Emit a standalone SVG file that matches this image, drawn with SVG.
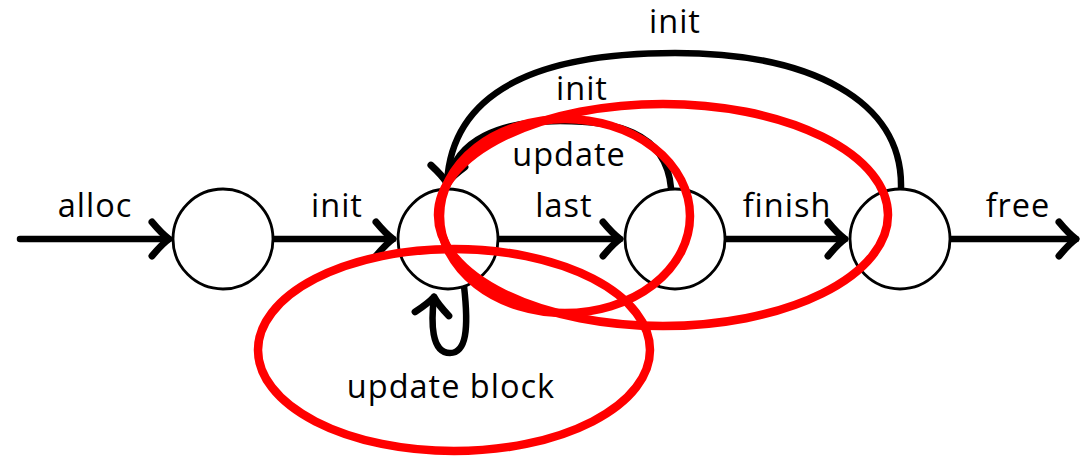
<svg xmlns="http://www.w3.org/2000/svg" width="1083" height="457" viewBox="0 0 1083 457">
  <style>
    .state { fill: #ffffff; stroke: #000000; stroke-width: 2.8; }
    .edge { fill: none; stroke: #000000; stroke-width: 6.5; stroke-linecap: round; marker-end: url(#arrow); }
    .arc { fill: none; stroke: #000000; stroke-width: 6.5; stroke-linecap: round; }
    .lbl { font-family: "Open Sans", "Noto Sans", sans-serif; font-size: 32.5px; letter-spacing: 1px; fill: #000000; text-anchor: middle; }
    .hl { fill: none; stroke: #ff0000; stroke-width: 8.5; }
  </style>
  <defs>
    <marker id="arrow" markerUnits="userSpaceOnUse" markerWidth="40" markerHeight="40" refX="0" refY="0" orient="auto" viewBox="-20 -20 40 40" overflow="visible">
      <path d="M -17 -17 Q -7 -5 0 0 Q -7 5 -17 17" fill="none" stroke="#000000" stroke-width="7" stroke-linecap="round" stroke-linejoin="round"/>
    </marker>
  </defs>
  <rect width="1083" height="457" fill="#ffffff"/>

  <g id="connectors">
    <path class="edge" d="M 20 239 L 169 239"/>
    <path class="edge" d="M 274 239 L 393 239"/>
    <path class="edge" d="M 499 239 L 620 239"/>
    <path class="edge" d="M 726 239 L 845 239"/>
    <path class="edge" d="M 951 239 L 1076 239"/>
    <path class="arc" d="M 671 188 C 666 130 612 121 560 121 C 500 121 456 140 448 182"/>
    <path class="edge" d="M 901 188 C 903 100 810 53 675 53 C 540 53 452 90 447 183"/>
    <path class="edge" d="M 464 286 C 469 330 466 353 450 353 C 431 353 431 322 434 297"/>
  </g>

  <g id="labels">
    <text class="lbl" x="95" y="217">alloc</text>
    <text class="lbl" x="337" y="217">init</text>
    <text class="lbl" x="564" y="217">last</text>
    <text class="lbl" x="569" y="166">update</text>
    <text class="lbl" x="582" y="100">init</text>
    <text class="lbl" x="675" y="33">init</text>
    <text class="lbl" x="787" y="217">finish</text>
    <text class="lbl" x="1018" y="217">free</text>
    <text class="lbl" x="451" y="398">update block</text>
  </g>

  <g id="s1"><circle class="state" cx="223" cy="239" r="50"/></g>
  <g id="s2"><circle class="state" cx="448" cy="239" r="50"/></g>
  <g id="s3"><circle class="state" cx="675" cy="239" r="50"/></g>
  <g id="s4"><circle class="state" cx="900" cy="239" r="50"/></g>

  <g id="highlights">
    <ellipse class="hl" cx="454" cy="350" rx="196" ry="101"/>
    <ellipse class="hl" cx="565" cy="216" rx="125" ry="97"/>
    <ellipse class="hl" cx="663" cy="215" rx="225" ry="111"/>
  </g>
</svg>
